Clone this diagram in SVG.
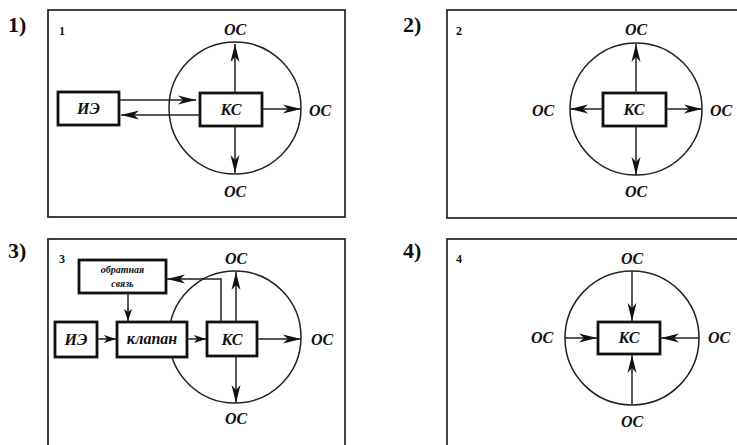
<svg xmlns="http://www.w3.org/2000/svg" width="737" height="445" viewBox="0 0 737 445">
<defs>
<marker id="ah" markerUnits="userSpaceOnUse" markerWidth="20" markerHeight="10" refX="18" refY="5" orient="auto">
<path d="M0,0.5 L18,5 L0,9.5 L5,5 z" fill="#111"/>
</marker>
<marker id="ahs" markerUnits="userSpaceOnUse" markerWidth="14" markerHeight="10" refX="12" refY="5" orient="auto">
<path d="M0,1 L12,5 L0,9 L3,5 z" fill="#111"/>
</marker>
<style>
.frame{fill:none;stroke:#222;stroke-width:1.7}
.box{fill:#fff;stroke:#111;stroke-width:2.8}
.circ{fill:none;stroke:#222;stroke-width:1.5}
.ar{fill:none;stroke:#222;stroke-width:1.5;marker-end:url(#ah)}
.as{fill:none;stroke:#222;stroke-width:1.5;marker-end:url(#ahs)}
text{font-family:'Liberation Serif','DejaVu Serif','Times New Roman',serif;font-weight:bold;fill:#111}
.t{font-style:italic}
.oc{font-size:16px}
.mid{text-anchor:middle}
.num{font-size:22px}
.sm{font-size:12px}
.tiny{font-size:10px}
</style>
</defs>
<rect width="737" height="445" fill="#fff"/>

<!-- Panel 1 -->
<g id="panel1">
<text class="num" x="8" y="32">1)</text>
<rect class="frame" x="48" y="10" width="297" height="207"/>
<text class="sm" x="59" y="35">1</text>
<circle class="circ" cx="235" cy="108" r="66"/>
</g>
<g id="p1-ie"><rect class="box" x="58" y="92" width="61" height="33"/><text class="t oc mid" x="88.5" y="114">ИЭ</text></g>
<g id="p1-ks"><rect class="box" x="200" y="93" width="62" height="33"/><text class="t oc mid" x="231" y="115">КС</text></g>
<g id="p1-os"><text class="t oc mid" x="235" y="35">ОС</text><text class="t oc" x="309" y="116">ОС</text><text class="t oc mid" x="235" y="197">ОС</text></g>
<g id="p1-conn">
<line class="ar" x1="119" y1="100" x2="196" y2="100"/>
<line class="ar" x1="200" y1="115" x2="121" y2="115"/>
<line class="ar" x1="235" y1="93" x2="235" y2="44"/>
<line class="ar" x1="262" y1="109" x2="301" y2="109"/>
<line class="ar" x1="235" y1="126" x2="235" y2="173"/>
</g>

<!-- Panel 2 -->
<g id="panel2">
<text class="num" x="403" y="32">2)</text>
<rect class="frame" x="447" y="10" width="300" height="208"/>
<text class="sm" x="456" y="35">2</text>
<circle class="circ" cx="636" cy="109" r="66"/>
</g>
<g id="p2-ks"><rect class="box" x="603" y="93" width="63" height="33"/><text class="t oc mid" x="634" y="115">КС</text></g>
<g id="p2-os"><text class="t oc mid" x="636" y="35">ОС</text><text class="t oc" x="532" y="116">ОС</text><text class="t oc" x="710" y="116">ОС</text><text class="t oc mid" x="636" y="197">ОС</text></g>
<g id="p2-conn">
<line class="ar" x1="636" y1="93" x2="636" y2="44"/>
<line class="ar" x1="636" y1="126" x2="636" y2="175"/>
<line class="ar" x1="603" y1="109" x2="570" y2="109"/>
<line class="ar" x1="666" y1="109" x2="702" y2="109"/>
</g>

<!-- Panel 3 -->
<g id="panel3">
<text class="num" x="8" y="258">3)</text>
<rect class="frame" x="48" y="239" width="297" height="220"/>
<text class="sm" x="59" y="263">3</text>
<circle class="circ" cx="235" cy="337" r="66"/>
</g>
<g id="p3-fb"><rect class="box" x="79" y="260" width="87" height="33"/><text class="t tiny mid" x="122.5" y="273">обратная</text><text class="t tiny mid" x="122.5" y="287">связь</text></g>
<g id="p3-ie"><rect class="box" x="55" y="322" width="42" height="35"/><text class="t oc mid" x="76" y="345">ИЭ</text></g>
<g id="p3-valve"><rect class="box" x="117" y="322" width="70" height="35"/><text class="t oc mid" x="152" y="344">клапан</text></g>
<g id="p3-ks"><rect class="box" x="207" y="322" width="50" height="34"/><text class="t oc mid" x="232" y="345">КС</text></g>
<g id="p3-os"><text class="t oc mid" x="236" y="264">ОС</text><text class="t oc" x="311" y="345">ОС</text><text class="t oc mid" x="236" y="424">ОС</text></g>
<g id="p3-conn">
<line class="as" x1="97" y1="339" x2="116" y2="339"/>
<line class="as" x1="187" y1="339" x2="206" y2="339"/>
<line class="ar" x1="257" y1="339" x2="301" y2="339"/>
<line class="ar" x1="236" y1="322" x2="236" y2="272"/>
<line class="ar" x1="236" y1="356" x2="236" y2="403"/>
<polyline class="ar" points="221,322 221,279 167,279"/>
<line class="as" x1="128" y1="293" x2="128" y2="321"/>
</g>

<!-- Panel 4 -->
<g id="panel4">
<text class="num" x="403" y="258">4)</text>
<rect class="frame" x="447" y="239" width="300" height="220"/>
<text class="sm" x="456" y="263">4</text>
<circle class="circ" cx="632" cy="338" r="67"/>
</g>
<g id="p4-ks"><rect class="box" x="598" y="322" width="62" height="32"/><text class="t oc mid" x="629" y="343">КС</text></g>
<g id="p4-os"><text class="t oc mid" x="632" y="264">ОС</text><text class="t oc" x="531" y="343">ОС</text><text class="t oc" x="708" y="343">ОС</text><text class="t oc mid" x="632" y="427">ОС</text></g>
<g id="p4-conn">
<line class="ar" x1="632" y1="271" x2="632" y2="321"/>
<line class="ar" x1="565" y1="338" x2="597" y2="338"/>
<line class="ar" x1="699" y1="338" x2="661" y2="338"/>
<line class="ar" x1="632" y1="405" x2="632" y2="355"/>
</g>
</svg>
